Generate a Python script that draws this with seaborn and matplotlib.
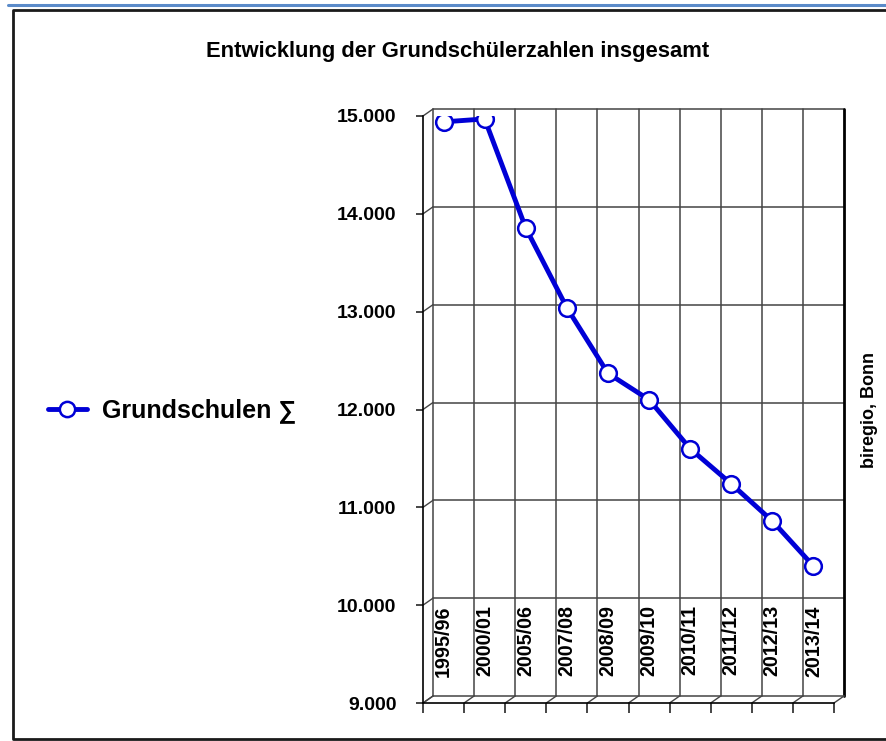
import numpy as np
import pandas as pd
import matplotlib
matplotlib.use("Agg")
import matplotlib.pyplot as plt
from matplotlib.lines import Line2D
from matplotlib.transforms import offset_copy
import seaborn as sns

# data
jahre = ["1995/96", "2000/01", "2005/06", "2007/08", "2008/09",
         "2009/10", "2010/11", "2011/12", "2012/13", "2013/14"]
schueler = [14940, 14970, 13855, 13040, 12370, 12100, 11600, 11240, 10860, 10400]
y_ticks = [9000, 10000, 11000, 12000, 13000, 14000, 15000]
y_labels = ["9.000", "10.000", "11.000", "12.000", "13.000", "14.000", "15.000"]

titel = "Entwicklung der Grundschülerzahlen insgesamt"
serie = "Grundschulen ∑"
quelle = "biregio, Bonn"

sns.set_style("white")
plt.rcParams["font.family"] = ["Liberation Sans", "DejaVu Sans"]
plt.rcParams["text.color"] = "black"
plt.rcParams["ytick.labelcolor"] = "black"

blau = "#0000d6"
grid_col = "#444444"

W, H = 886, 741
fig = plt.figure(figsize=(W / 100, H / 100), dpi=100)

# front plane of the pseudo 3d chart, back wall sits 10px right / 7px up
ax = fig.add_axes([423 / W, (H - 703) / H, 411 / W, 587 / H])
ax.set_xlim(-0.5, 9.5)
ax.set_ylim(9000, 15000)
back = offset_copy(ax.transData, fig=fig, x=10, y=7, units="dots")
dx = 10 * 10 / 411
dy = 7 * 6000 / 587

# back wall grid
for v in y_ticks[1:]:
    ax.plot([-0.5, 9.5], [v, v], transform=back, color=grid_col, lw=1.1, clip_on=False, zorder=1)
for i in range(11):
    x = -0.5 + i
    ax.plot([x, x], [9000, 15000], transform=back, color="black" if i == 10 else grid_col,
            lw=2 if i == 10 else 1.1, clip_on=False, zorder=1)
ax.plot([-0.5, 9.5], [9000, 9000], transform=back, color=grid_col, lw=1.1, clip_on=False, zorder=1)

# depth edges
for v in y_ticks:
    ax.plot([-0.5, -0.5 + dx], [v, v + dy], color=grid_col, lw=1, clip_on=False, zorder=1)
for i in range(11):
    x = -0.5 + i
    ax.plot([x, x + dx], [9000, 9000 + dy], color=grid_col, lw=1, clip_on=False, zorder=1)

df = pd.DataFrame({"pos": np.arange(len(jahre)), "Jahr": jahre, "Schueler": schueler})
sns.lineplot(data=df, x="pos", y="Schueler", ax=ax, color=blau, lw=3.5, marker="o",
             markersize=12, markerfacecolor="white", markeredgecolor=blau,
             markeredgewidth=1.8, legend=False, zorder=5)

for i, j in enumerate(jahre):
    ax.text(i, 10000, j, rotation=90, ha="center", va="top", fontsize=14.2,
            fontweight="bold", color="black", zorder=4)

ax.set_xlabel("")
ax.set_ylabel("")
ax.set_yticks(y_ticks)
ax.set_yticklabels(y_labels, fontweight="bold")
ax.set_xticks(np.arange(-0.5, 10, 1))
ax.set_xticklabels([])
ax.tick_params(axis="y", length=5, width=1.2, pad=14, labelsize=14, left=True)
ax.tick_params(axis="x", length=7, width=1.2, bottom=True)
for s in ["top", "right"]:
    ax.spines[s].set_visible(False)
for s in ["left", "bottom"]:
    ax.spines[s].set_color("black")
    ax.spines[s].set_linewidth(1.2)

fig.text(458 / W, 1 - 52 / H, titel, ha="center", va="center", fontsize=15.8, fontweight="bold")
fig.text(870 / W, 1 - 410 / H, quelle, rotation=90, ha="center", va="center",
         fontsize=13, fontweight="bold")

handle = Line2D([], [], color=blau, lw=3.5, marker="o", ms=11, mfc="white", mec=blau, mew=1.8)
fig.legend(handles=[handle], labels=[serie], loc="center left",
           bbox_to_anchor=(48 / W, 1 - 411 / H), frameon=False, borderpad=0,
           borderaxespad=0, handlelength=1.55, handletextpad=0.6,
           prop={"size": 18, "weight": "bold"})

# page frame
fig.add_artist(Line2D([8 / W, 1], [1 - 5 / H, 1 - 5 / H], transform=fig.transFigure,
                      color="#5b8bc9", lw=2.2))
fig.add_artist(Line2D([1, 13 / W, 13 / W, 1], [1 - 10 / H, 1 - 10 / H, 1 - 739 / H, 1 - 739 / H],
                      transform=fig.transFigure, color="#1a1a1a", lw=2))

fig.savefig("out.png", dpi=100)
